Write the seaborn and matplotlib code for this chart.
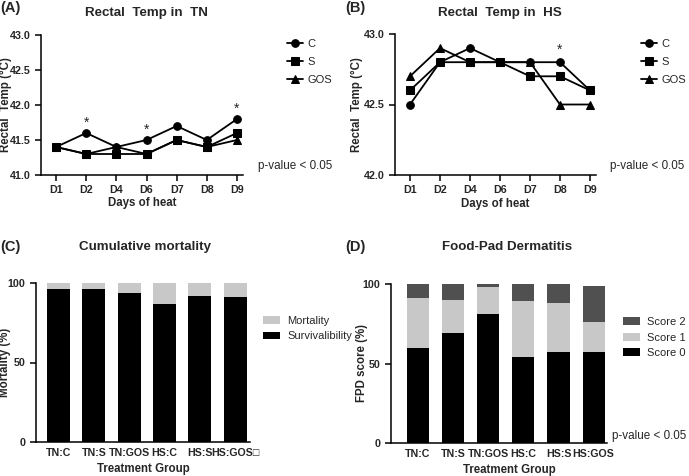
import pandas as pd
import numpy as np
import matplotlib.pyplot as plt
import seaborn as sns
from matplotlib.ticker import FormatStrFormatter

sns.set_style("ticks")
plt.rcParams['font.family'] = ['Liberation Sans', 'DejaVu Sans']

# -----------------------------
# data
# -----------------------------
days = ["D1", "D2", "D4", "D6", "D7", "D8", "D9"]
diets = ["C", "S", "GOS"]

tn_c = [41.4, 41.6, 41.4, 41.5, 41.7, 41.5, 41.8]
tn_s = [41.4, 41.3, 41.3, 41.3, 41.5, 41.4, 41.6]
tn_gos = [41.4, 41.3, 41.4, 41.3, 41.5, 41.4, 41.5]
tn_sig = ["D2", "D6", "D9"]

hs_c = [42.5, 42.8, 42.9, 42.8, 42.8, 42.8, 42.6]
hs_s = [42.6, 42.8, 42.8, 42.8, 42.7, 42.7, 42.6]
hs_gos = [42.7, 42.9, 42.8, 42.8, 42.8, 42.5, 42.5]
hs_sig = ["D8"]

groups = ["TN:C", "TN:S", "TN:GOS", "HS:C", "HS:S", "HS:GOS\u25a1"]
survival = [96, 96, 94, 87, 92, 91]
mortality = [4, 4, 6, 13, 8, 9]

fpd_groups = ["TN:C", "TN:S", "TN:GOS", "HS:C", "HS:S", "HS:GOS"]
score0 = [60, 69, 81, 54, 57, 57]
score1 = [31, 21, 17, 35, 31, 19]
score2 = [9, 10, 2, 11, 12, 23]

LIGHT = "#c8c8c8"
DARK = "#505050"
TICK_FS = 7.7
LAB_FS = 8.3
LEG_FS = 8

fig = plt.figure(figsize=(6.89, 4.76), dpi=100)
W, H = 689, 476


def px_axes(l, t, r, b):
    return fig.add_axes([l / W, 1 - b / H, (r - l) / W, (b - t) / H])


def style_axes(ax):
    sns.despine(ax=ax)
    for s in ["left", "bottom"]:
        ax.spines[s].set_linewidth(1.1)
        ax.spines[s].set_color("black")
    ax.tick_params(labelsize=TICK_FS, width=1.1, length=4, color="black")
    for lab in ax.get_xticklabels() + ax.get_yticklabels():
        lab.set_fontweight("bold")


def temp_panel(ax, c, s, g, sig, ylim, yticks, legend_xy):
    df = pd.DataFrame({
        "day": days * 3,
        "temp": c + s + g,
        "diet": ["C"] * 7 + ["S"] * 7 + ["GOS"] * 7,
    })
    sns.lineplot(data=df, x="day", y="temp", hue="diet", style="diet",
                 markers={"C": "o", "S": "s", "GOS": "^"}, dashes=False,
                 palette={"C": "black", "S": "black", "GOS": "black"},
                 markersize=5.5, markeredgecolor="black", linewidth=1.3,
                 sort=False, ax=ax)
    for d in sig:
        i = days.index(d)
        ax.text(i, c[i] + 0.04, "*", ha="center", va="bottom", fontsize=10)
    ax.set_ylim(*ylim)
    ax.set_yticks(yticks)
    ax.yaxis.set_major_formatter(FormatStrFormatter("%.1f"))
    ax.set_xlim(-0.5, 6.2)
    ax.set_xlabel("Days of heat", fontsize=LAB_FS, fontweight="bold")
    ax.set_ylabel("Rectal  Temp (\u00b0C)", fontsize=LAB_FS, fontweight="bold")
    handles, labels = ax.get_legend_handles_labels()
    for h in handles:
        h.set_markeredgecolor("black")
    ax.legend(handles, labels, loc="center left", bbox_to_anchor=legend_xy,
              bbox_transform=fig.transFigure, frameon=False, fontsize=LEG_FS,
              handlelength=1.4, handletextpad=0.4, labelspacing=0.7,
              borderaxespad=0)
    style_axes(ax)
    ax.tick_params(axis="x", pad=3)


# (A) Rectal temp TN
axA = px_axes(41, 35, 243, 175)
temp_panel(axA, tn_c, tn_s, tn_gos, tn_sig, (41.0, 43.0),
           [41.0, 41.5, 42.0, 42.5, 43.0], (283 / W, 1 - 62 / H))
axA.xaxis.set_label_coords(0.5, -0.16)
axA.yaxis.set_label_coords(-0.145, 0.5)

# (B) Rectal temp HS
axB = px_axes(395, 34, 596, 175)
temp_panel(axB, hs_c, hs_s, hs_gos, hs_sig, (42.0, 43.0),
           [42.0, 42.5, 43.0], (637 / W, 1 - 62 / H))
axB.xaxis.set_label_coords(0.5, -0.16)
axB.yaxis.set_label_coords(-0.16, 0.5)

# (C) Cumulative mortality
axC = px_axes(36, 283, 250, 442)
tot = [a + b for a, b in zip(survival, mortality)]
sns.barplot(x=groups, y=tot, color=LIGHT, saturation=1, width=0.65,
            linewidth=0, ax=axC, label="Mortality")
sns.barplot(x=groups, y=survival, color="black", saturation=1, width=0.65,
            linewidth=0, ax=axC, label="Survivalibility")
axC.set_ylim(0, 100)
axC.set_yticks([0, 50, 100])
axC.set_xlim(-0.64, 5.42)
axC.set_xlabel("Treatment Group", fontsize=LAB_FS, fontweight="bold")
axC.set_ylabel("Mortality (%)", fontsize=LAB_FS, fontweight="bold")
axC.xaxis.set_label_coords(0.5, -0.13)
axC.yaxis.set_label_coords(-0.115, 0.5)
axC.legend(loc="center left", bbox_to_anchor=(259 / W, 1 - 328.5 / H),
           bbox_transform=fig.transFigure, frameon=False, fontsize=LEG_FS,
           handlelength=1.45, handletextpad=0.67, labelspacing=0.5,
           borderaxespad=0)
style_axes(axC)
axC.tick_params(axis="x", length=0, pad=4)

# (D) Food-pad dermatitis
axD = px_axes(391, 284, 607, 443)
lvl2 = [a + b + c for a, b, c in zip(score0, score1, score2)]
lvl1 = [a + b for a, b in zip(score0, score1)]
sns.barplot(x=fpd_groups, y=lvl2, color=DARK, saturation=1, width=0.63,
            linewidth=0, ax=axD, label="Score 2")
sns.barplot(x=fpd_groups, y=lvl1, color=LIGHT, saturation=1, width=0.63,
            linewidth=0, ax=axD, label="Score 1")
sns.barplot(x=fpd_groups, y=score0, color="black", saturation=1, width=0.63,
            linewidth=0, ax=axD, label="Score 0")
axD.set_ylim(0, 100)
axD.set_yticks([0, 50, 100])
axD.set_xlim(-0.77, 5.38)
axD.set_xlabel("Treatment Group", fontsize=LAB_FS, fontweight="bold")
axD.set_ylabel("FPD score (%)", fontsize=LAB_FS, fontweight="bold")
axD.xaxis.set_label_coords(0.55, -0.13)
axD.yaxis.set_label_coords(-0.106, 0.5)
axD.legend(loc="center left", bbox_to_anchor=(619 / W, 1 - 337.5 / H),
           bbox_transform=fig.transFigure, frameon=False, fontsize=LEG_FS,
           handlelength=1.45, handletextpad=0.67, labelspacing=0.5,
           borderaxespad=0)
style_axes(axD)
axD.tick_params(axis="x", length=0, pad=4)

# titles, panel letters, p-values
for x, y, t in [(146, 13, "Rectal  Temp in  TN"), (500, 13, "Rectal  Temp in  HS"),
                (145, 247, "Cumulative mortality"), (507, 247, "Food-Pad Dermatitis")]:
    fig.text(x / W, 1 - y / H, t, ha="center", va="center", fontsize=9.6, fontweight="bold")
for x, y, t in [(0, 8, "(A)"), (345, 8, "(B)"), (0, 247, "(C)"), (345, 247, "(D)")]:
    fig.text(x / W, 1 - y / H, t, ha="left", va="center", fontsize=10.5, fontweight="bold")
for x, y in [(258, 166), (610, 166), (612, 436)]:
    fig.text(x / W, 1 - y / H, "p-value < 0.05", ha="left", va="center", fontsize=8.4)

fig.savefig("out.png", dpi=100)
